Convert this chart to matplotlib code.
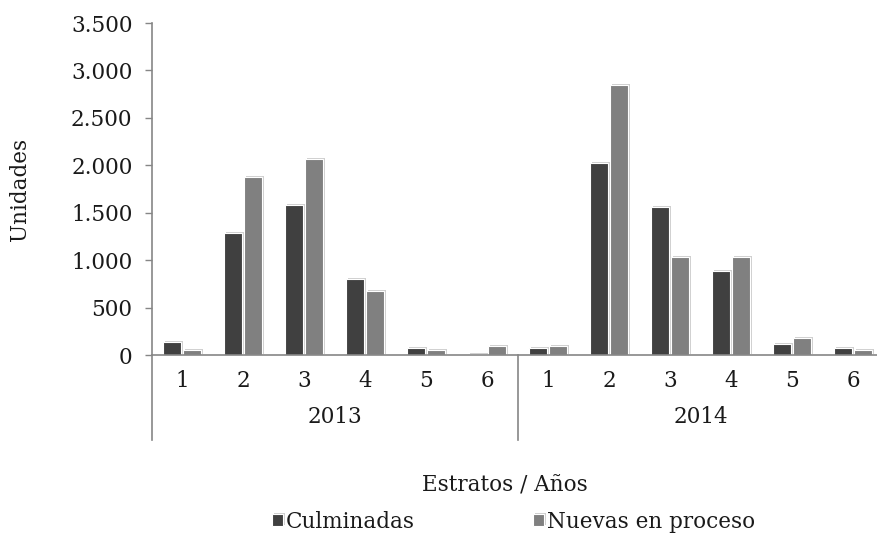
import matplotlib.pyplot as plt
import matplotlib.patheffects as pe
from matplotlib.ticker import FuncFormatter, MultipleLocator
import numpy as np

years = ["2013", "2014"]
estratos = ["1", "2", "3", "4", "5", "6"]
culminadas = [134, 1290, 1582, 805, 70, 14,
              70, 2022, 1561, 889, 113, 70]
nuevas = [50, 1877, 2067, 678, 50, 92,
          92, 2845, 1037, 1037, 176, 50]

plt.rcParams["font.family"] = "DejaVu Serif"
text_color = "#1a1a1a"
axis_color = "#868686"
fs = 15.5

fig = plt.figure(figsize=(8.77, 5.37), dpi=100)
ax = fig.add_axes([152 / 877, 182 / 537, 732 / 877, 332 / 537])

n = len(culminadas)
x = np.arange(n) + 0.5
w = 0.29
shadow = [pe.SimplePatchShadow(offset=(1.5, 0.8), shadow_rgbFace="#c4c4c4", alpha=0.8), pe.Normal()]
b1 = ax.bar(x - 0.175, culminadas, width=w, color="#404040", edgecolor="white", linewidth=0.8,
            label="Culminadas", zorder=2)
b2 = ax.bar(x + 0.155, nuevas, width=w, color="#808080", edgecolor="white", linewidth=0.8,
            label="Nuevas en proceso", zorder=2)
for bar in list(b1) + list(b2):
    bar.set_path_effects(shadow)

ax.set_xlim(0, n)
ax.set_ylim(0, 3500)
ax.yaxis.set_major_locator(MultipleLocator(500))
ax.yaxis.set_major_formatter(FuncFormatter(lambda v, p: f"{v:,.0f}".replace(",", ".")))
ax.tick_params(axis="y", length=5, width=1, color=axis_color, labelsize=fs, labelcolor=text_color, pad=9)
ax.set_xticks(x)
ax.set_xticklabels(estratos * len(years))
ax.tick_params(axis="x", length=0, labelsize=fs, labelcolor=text_color, pad=11)

for s in ["top", "right"]:
    ax.spines[s].set_visible(False)
for s in ["left", "bottom"]:
    ax.spines[s].set_color(axis_color)
    ax.spines[s].set_linewidth(1.2)
    ax.spines[s].set_zorder(3)

# group separators and year labels below the axis
trans = ax.get_xaxis_transform()
for k in range(len(years) + 1):
    ax.plot([k * 6, k * 6], [0, -85 / 332], color=axis_color, lw=1.2, transform=trans, clip_on=False)
for k, yr in enumerate(years):
    ax.text(k * 6 + 3, -62 / 332, yr, transform=trans, ha="center", va="center",
            fontsize=fs, color=text_color)

ax.set_ylabel("Unidades", fontsize=fs, color=text_color)
ax.yaxis.set_label_coords(-0.165, 0.5)
fig.text(505 / 877, 1 - 486 / 537, "Estratos / Años", ha="center", va="center",
         fontsize=fs, color=text_color)

for handle, x0 in [(b1, 272), (b2, 533)]:
    fig.legend(handles=[handle], loc="center left", bbox_to_anchor=(x0 / 877, 1 - 522 / 537),
               frameon=False, fontsize=fs, handlelength=0.5, handleheight=0.5, handletextpad=0.15,
               borderpad=0, borderaxespad=0, labelcolor=text_color)

fig.savefig("out.png", dpi=100)
